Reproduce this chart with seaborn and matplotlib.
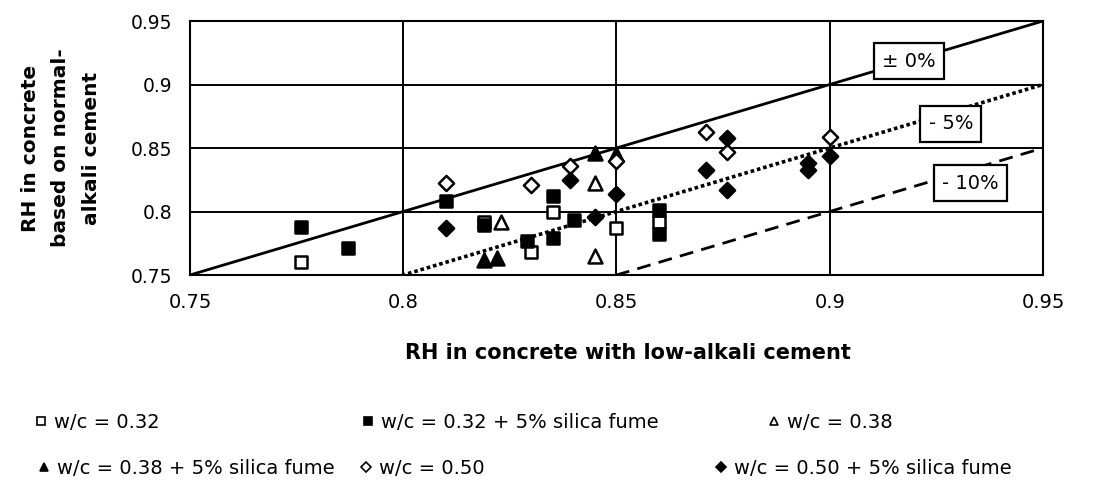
import numpy as np
import pandas as pd
import matplotlib
matplotlib.use("Agg")
import matplotlib.pyplot as plt
from matplotlib.lines import Line2D
import seaborn as sns

# ---------------- data ----------------
sq_open_x = [0.776, 0.819, 0.830, 0.835, 0.850, 0.860]
sq_open_y = [0.760, 0.792, 0.768, 0.800, 0.787, 0.792]

sq_fill_x = [0.776, 0.787, 0.810, 0.819, 0.829, 0.835, 0.835, 0.840, 0.860, 0.860]
sq_fill_y = [0.788, 0.771, 0.808, 0.789, 0.777, 0.812, 0.779, 0.793, 0.801, 0.782]

tri_open_x = [0.823, 0.845, 0.845]
tri_open_y = [0.792, 0.8225, 0.765]

tri_fill_x = [0.819, 0.822, 0.845, 0.850]
tri_fill_y = [0.762, 0.763, 0.846, 0.845]

dia_open_x = [0.810, 0.830, 0.839, 0.850, 0.871, 0.876, 0.900]
dia_open_y = [0.8225, 0.821, 0.836, 0.840, 0.8625, 0.847, 0.859]

dia_fill_x = [0.810, 0.839, 0.845, 0.850, 0.871, 0.876, 0.876, 0.895, 0.895, 0.900]
dia_fill_y = [0.787, 0.825, 0.7955, 0.8135, 0.8325, 0.858, 0.817, 0.838, 0.833, 0.844]

series_labels = ["w/c = 0.32", "w/c = 0.32 + 5% silica fume", "w/c = 0.38",
                 "w/c = 0.38 + 5% silica fume", "w/c = 0.50", "w/c = 0.50 + 5% silica fume"]

ref_x = [0.75, 0.95]
ref_offsets = [0.0, -0.05, -0.10]
ref_labels = ["\u00b1 0%", "- 5%", "- 10%"]

ticks = [0.75, 0.8, 0.85, 0.9, 0.95]
tick_labels = ["0.75", "0.8", "0.85", "0.9", "0.95"]

xlabel = "RH in concrete with low-alkali cement"
ylabel = "RH in concrete\nbased on normal-\nalkali cement"

# ---------------- style ----------------
sns.set_style("white")
plt.rcParams['font.family'] = ['DejaVu Sans']
plt.rcParams['text.color'] = 'black'
plt.rcParams['axes.labelcolor'] = 'black'
plt.rcParams['xtick.color'] = 'black'
plt.rcParams['ytick.color'] = 'black'

W, H = 1099, 486
fig = plt.figure(figsize=(W / 100, H / 100), dpi=100)
ax = fig.add_axes([190 / W, 1 - 275 / H, (1043 - 190) / W, (275 - 21) / H])

ax.set_xlim(0.75, 0.95)
ax.set_ylim(0.75, 0.95)
ax.set_xticks(ticks)
ax.set_xticklabels(tick_labels, fontsize=14)
ax.set_yticks(ticks)
ax.set_yticklabels(tick_labels, fontsize=13.5)
ax.tick_params(axis='both', direction='out', length=5, width=1.2, color='black',
               labelcolor='black', pad=8)
ax.grid(True, color='black', linewidth=1.4)
ax.set_axisbelow(True)
for sp in ax.spines.values():
    sp.set_color('black')
    sp.set_linewidth(1.5)

# reference lines
styles = ['-', (0, (1, 0.8)), (0, (5, 3))]
widths = [2.0, 2.6, 2.0]
rx = np.array(ref_x)
for off, ls, lw in zip(ref_offsets, styles, widths):
    sns.lineplot(x=rx, y=rx + off, ax=ax, color='black', linestyle=ls,
                 linewidth=lw, zorder=2)

# reference labels (boxes)
label_pos = [(0.9186, 0.9185), (0.9284, 0.8689), (0.9329, 0.8224)]
for (lx, ly), t in zip(label_pos, ref_labels):
    ax.text(lx, ly, t, fontsize=14, ha='center', va='center', zorder=5, color='black',
            bbox=dict(boxstyle='square,pad=0.42', fc='white', ec='black', lw=1.6))

# scatter series
specs = [
    (sq_open_x, sq_open_y, 's', 'white'),
    (sq_fill_x, sq_fill_y, 's', 'black'),
    (tri_open_x, tri_open_y, '^', 'white'),
    (tri_fill_x, tri_fill_y, '^', 'black'),
    (dia_open_x, dia_open_y, 'D', 'white'),
    (dia_fill_x, dia_fill_y, 'D', 'black'),
]
sizes = {'s': 85, '^': 100, 'D': 60}
for x, y, m, fc in specs:
    df = pd.DataFrame({"x": x, "y": y})
    sns.scatterplot(data=df, x="x", y="y", marker=m, s=sizes[m],
                    color=fc, edgecolor='black', linewidth=1.8, ax=ax, zorder=4)

ax.set_xlabel("")
ax.set_ylabel("")

fig.text(628 / W, 1 - 353 / H, xlabel, fontsize=15, fontweight='bold',
         ha='center', va='center', color='black')
fig.text(61 / W, 1 - 148 / H, ylabel, fontsize=14.5, fontweight='bold',
         ha='center', va='center', rotation=90, multialignment='center',
         linespacing=1.75, color='black')

# legend entries placed individually
leg_pos = [(34, 422), (361, 422), (767, 422), (37, 468), (359, 468), (714, 468)]
for (px, py), (x, y, m, fc), lab in zip(leg_pos, specs, series_labels):
    h = Line2D([], [], marker=m, linestyle='none', markersize=6 if m != 'D' else 5,
               markerfacecolor=fc, markeredgecolor='black', markeredgewidth=1.2)
    lg = fig.legend(handles=[h], labels=[lab], loc='center left',
                    bbox_to_anchor=(px / W, 1 - py / H), frameon=False, fontsize=14,
                    borderpad=0, borderaxespad=0, handlelength=0.7, handletextpad=0.35)
    for t in lg.get_texts():
        t.set_color('black')

fig.savefig("out.png", dpi=100, facecolor='white')
